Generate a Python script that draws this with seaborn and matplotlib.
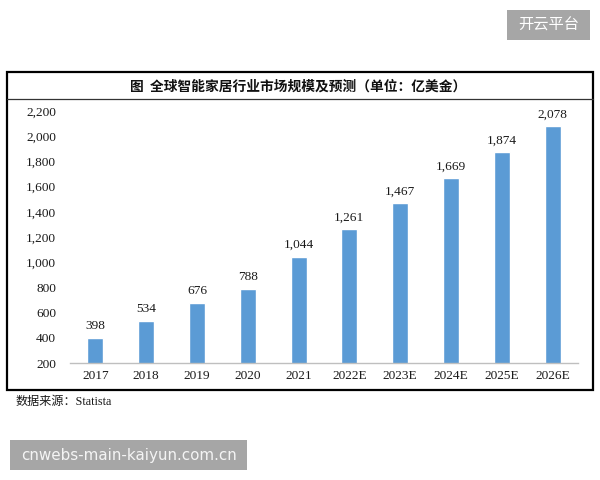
import matplotlib
matplotlib.use("Agg")
import matplotlib.pyplot as plt
import seaborn as sns
import pandas as pd
from matplotlib.patches import Rectangle
from matplotlib.lines import Line2D
from matplotlib.ticker import FuncFormatter, FixedLocator

categories = ["2017", "2018", "2019", "2020", "2021", "2022E", "2023E", "2024E", "2025E", "2026E"]
values = [398, 534, 676, 788, 1044, 1261, 1467, 1669, 1874, 2078]
y_ticks = [200, 400, 600, 800, 1000, 1200, 1400, 1600, 1800, 2000, 2200]
title_text = "图  全球智能家居行业市场规模及预测（单位：亿美金）"
source_text = "数据来源：Statista"
wm_top = "开云平台"
wm_bottom = "cnwebs-main-kaiyun.com.cn"

sns.set_style("white")
plt.rcParams["font.family"] = ["Liberation Serif", "Noto Sans CJK SC", "DejaVu Sans"]

df = pd.DataFrame({"year": categories, "value": values})

fig = plt.figure(figsize=(6, 4.8), dpi=100)
W, H = 600, 480

def fx(px):
    return px / W

def fy(py):
    return 1 - py / H

ax = fig.add_axes([fx(70), fy(363), fx(578) - fx(70), fy(111) - fy(363)])
sns.barplot(data=df, x="year", y="value", color="#5B9BD5", saturation=1,
            width=0.315, ax=ax, errorbar=None)

ax.set_xlim(-0.5, len(categories) - 0.5)
ax.set_ylim(200, 2200)
ax.set_yticks(y_ticks)
ax.yaxis.set_major_formatter(FuncFormatter(lambda v, p: f"{v:,.0f}"))
ax.tick_params(axis="y", length=0, pad=10, labelsize=9.6, colors="#1a1a1a")
ax.tick_params(axis="x", which="major", length=0, pad=5, labelsize=9.6, colors="#1a1a1a")
ax.xaxis.set_minor_locator(FixedLocator([i - 0.5 for i in range(len(categories) + 1)]))
ax.tick_params(axis="x", which="minor", length=4, width=1, color="#bfbfbf", direction="out")
ax.set_xlabel("")
ax.set_ylabel("")
for s in ["top", "right", "left"]:
    ax.spines[s].set_visible(False)
ax.spines["bottom"].set_color("#bfbfbf")
ax.spines["bottom"].set_linewidth(1)
ax.grid(False)

for i, v in enumerate(values):
    ax.annotate(f"{v:,}", xy=(i, v), xytext=(0, 4), textcoords="offset points",
                ha="center", va="bottom", fontsize=9.6, color="#1a1a1a")

# outer frame and title row
fig.add_artist(Rectangle((fx(7), fy(390)), fx(593) - fx(7), fy(72) - fy(390),
                         transform=fig.transFigure, fill=False, edgecolor="black",
                         linewidth=1.6))
fig.add_artist(Line2D([fx(7), fx(593)], [fy(99), fy(99)], transform=fig.transFigure,
                      color="#333333", linewidth=0.9))
fig.text(fx(298), fy(86.5), title_text, ha="center", va="center", fontsize=9.9,
         fontweight="bold", family=["Noto Sans CJK SC"], color="#111111")

fig.text(fx(16), fy(402), source_text, ha="left", va="center", fontsize=8.7,
         color="#1a1a1a")

# watermarks
fig.add_artist(Rectangle((fx(507), fy(40)), fx(590) - fx(507), fy(10) - fy(40),
                         transform=fig.transFigure, facecolor="#a6a6a6", edgecolor="none"))
fig.text(fx(548.5), fy(25), wm_top, ha="center", va="center", fontsize=11,
         family=["Noto Sans CJK SC"], color="white")
fig.add_artist(Rectangle((fx(10), fy(470)), fx(247) - fx(10), fy(440) - fy(470),
                         transform=fig.transFigure, facecolor="#a6a6a6", edgecolor="none"))
fig.text(fx(129), fy(455.5), wm_bottom, ha="center", va="center", fontsize=10.9,
         family=["DejaVu Sans"], color="#f4f4f4")

fig.savefig("out.png", dpi=100)
